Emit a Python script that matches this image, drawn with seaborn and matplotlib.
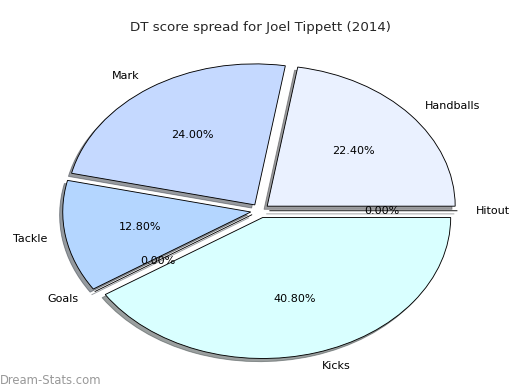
import matplotlib
matplotlib.use("Agg")
import matplotlib.pyplot as plt
import seaborn as sns

# DT score breakdown, counter-clockwise from 3 o'clock
categories = ["Hitout", "Handballs", "Mark", "Tackle", "Goals", "Kicks"]
shares = [0.0, 22.4, 24.0, 12.8, 0.0, 40.8]
colors = ["#f0f4ff", "#eaf1ff", "#c5d9ff", "#b4d6ff", "#c0e0ff", "#d9ffff"]
title = "DT score spread for Joel Tippett (2014)"
watermark = "Dream-Stats.com"

sns.set_style("white")
plt.rcParams["font.family"] = ["DejaVu Sans"]
plt.rcParams["font.size"] = 10

fig = plt.figure(figsize=(6.5, 4.875), dpi=80)
ax = fig.add_axes([25 / 520, 3 / 390, 470 / 520, 352.5 / 390])

ax.pie(
    shares,
    labels=categories,
    colors=colors,
    explode=[0.05] * len(shares),
    autopct="%.2f%%",
    shadow={"ox": -0.015, "oy": -0.02, "shade": 0.75},
    startangle=0,
    counterclock=True,
    wedgeprops={"edgecolor": "black", "linewidth": 0.8},
    textprops={"fontsize": 10, "color": "black"},
)
ax.set_aspect("auto")
ax.set_xlim(-1.25, 1.25)
ax.set_ylim(-1.25, 1.25)
ax.set_title(title, fontsize=12, pad=3)

fig.text(0.0, 0.008, watermark, fontsize=10.5, color="#999999",
         fontweight="medium", ha="left", va="bottom")

fig.savefig("out.png", dpi=80)
